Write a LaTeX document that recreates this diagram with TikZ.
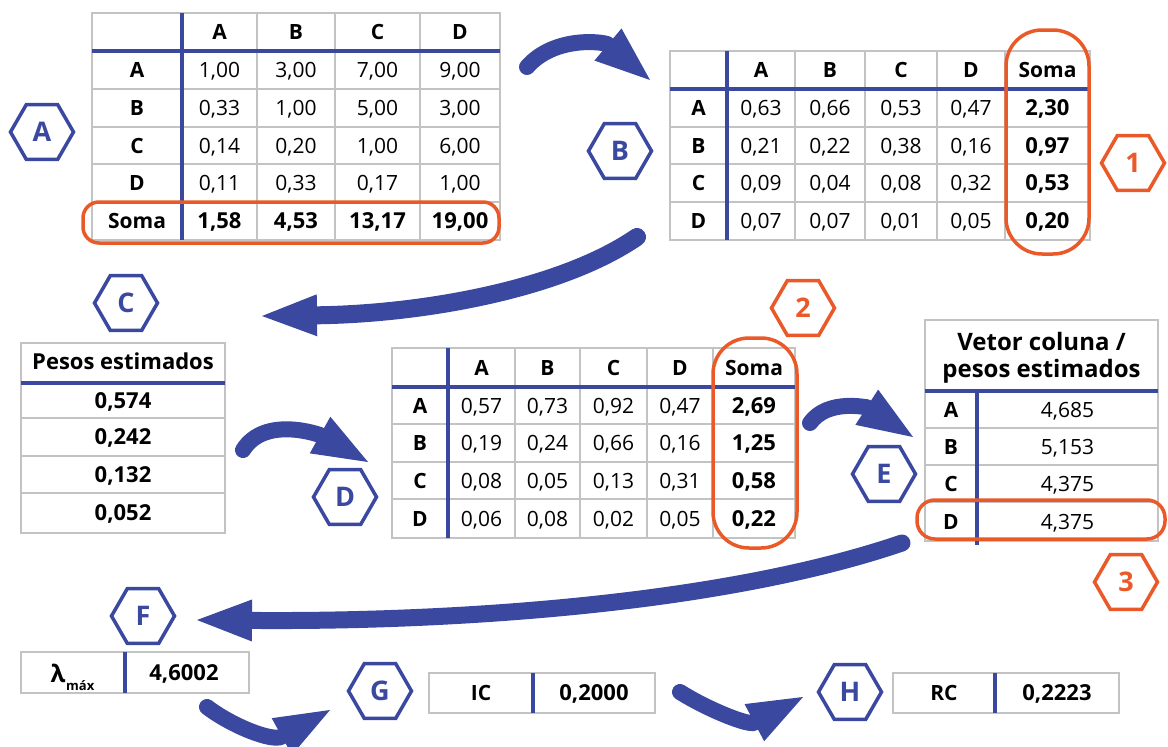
\documentclass[tikz,border=0pt]{standalone}
\usepackage{fontspec}
\setmainfont{Open Sans}
\usetikzlibrary{arrows.meta,shapes.geometric}

\definecolor{ahpblue}{RGB}{58,72,160}
\definecolor{ahporange}{RGB}{234,90,40}
\definecolor{gridgrey}{RGB}{195,195,195}

\tikzset{
  cell/.style={anchor=base, yshift=-7.5pt, inner sep=0pt, font=\fontsize{21}{25}\selectfont},
  bcell/.style={cell, font=\fontsize{21}{25}\selectfont\bfseries},
  bnum/.style={anchor=base, yshift=-7.8pt, inner sep=0pt, font=\fontsize{22}{26}\selectfont\bfseries},
  hdr/.style={anchor=base, inner sep=0pt, font=\fontsize{24}{28}\selectfont\bfseries},
  gridline/.style={draw=gridgrey, line width=2pt},
  blueline/.style={draw=ahpblue, line width=4pt},
  ring/.style={draw=ahporange, line width=3.5pt},
  hexmark/.style={regular polygon, regular polygon sides=6, minimum size=63pt,
    inner sep=0pt, line width=3.5pt, font=\fontsize{27}{30}\selectfont\bfseries},
  bluehex/.style={hexmark, draw=ahpblue, text=ahpblue},
  orangehex/.style={hexmark, draw=ahporange, text=ahporange},
  flow/.style={draw=ahpblue, line width=16pt, line cap=round,
    -{Triangle[length=55pt,width=42pt,line width=0pt]}},
}

% grey grid: xmin, xmax, ymin, ymax, inner verticals, inner horizontals
\newcommand\tablegrid[6]{%
  \foreach \gx in {#5} {\draw[gridline] (\gx,#3) -- (\gx,#4);}
  \foreach \gy in {#6} {\draw[gridline] (#1,\gy) -- (#2,\gy);}
  \draw[gridline] (#1,#3) rectangle (#2,#4);
}

\begin{document}
\begin{tikzpicture}[x=1pt,y=-1pt]
\fill[white] (0,0) rectangle (1168,747);
\useasboundingbox (0,0) rectangle (1168,747);

% ---------- Table A: comparison matrix ----------
\tablegrid{92}{500}{13}{240}{257,335,420}{89,127,164,202}
\draw[blueline] (182,13) -- (182,240);
\draw[blueline] (92,51) -- (500,51);
\foreach \x/\txt/\n in {219.5/A/1,296/B/2,377.5/C/3,460/D/4}
  \node[bcell] (ta-h\n) at (\x,32) {\txt};
\foreach \y/\txt/\n in {70/A/1,108/B/2,145.5/C/3,183/D/4,221/Soma/5}
  \node[bcell] (ta-r\n) at (137,\y) {\txt};
\foreach \y/\n/\va/\vb/\vc/\vd in {70/1/{1,00}/{3,00}/{7,00}/{9,00},
    108/2/{0,33}/{1,00}/{5,00}/{3,00}, 145.5/3/{0,14}/{0,20}/{1,00}/{6,00},
    183/4/{0,11}/{0,33}/{0,17}/{1,00}}{
  \node[cell] (ta-\n-1) at (219.5,\y) {\va};
  \node[cell] (ta-\n-2) at (296,\y) {\vb};
  \node[cell] (ta-\n-3) at (377.5,\y) {\vc};
  \node[cell] (ta-\n-4) at (460,\y) {\vd};
}
\node[bnum] (ta-5-1) at (219.5,221) {1,58};
\node[bnum] (ta-5-2) at (296,221) {4,53};
\node[bnum] (ta-5-3) at (377.5,221) {13,17};
\node[bnum] (ta-5-4) at (460,221) {19,00};
\draw[ring, rounded corners=16pt] (83,202) rectangle (499,243);
\node[bluehex] (hexA) at (42,132) {A};

% ---------- Table B: normalised matrix ----------
\tablegrid{670}{1090}{51}{240}{795,865,937,1005}{127,164,202}
\draw[blueline] (727,51) -- (727,240);
\draw[blueline] (670,89) -- (1090,89);
\foreach \x/\txt/\n in {761/A/1,830/B/2,901/C/3,971/D/4,1047.5/Soma/5}
  \node[bcell] (tb-h\n) at (\x,70) {\txt};
\foreach \y/\n/\r/\va/\vb/\vc/\vd/\vs in {108/1/A/{0,63}/{0,66}/{0,53}/{0,47}/{2,30},
    145.5/2/B/{0,21}/{0,22}/{0,38}/{0,16}/{0,97},
    183/3/C/{0,09}/{0,04}/{0,08}/{0,32}/{0,53},
    221/4/D/{0,07}/{0,07}/{0,01}/{0,05}/{0,20}}{
  \node[bcell] (tb-r\n) at (698.5,\y) {\r};
  \node[cell] (tb-\n-1) at (761,\y) {\va};
  \node[cell] (tb-\n-2) at (830,\y) {\vb};
  \node[cell] (tb-\n-3) at (901,\y) {\vc};
  \node[cell] (tb-\n-4) at (971,\y) {\vd};
  \node[bnum] (tb-\n-5) at (1047.5,\y) {\vs};
}
\draw[ring, rounded corners=36pt] (1006,30) rectangle (1089,254);
\node[bluehex] (hexB) at (620,151) {B};
\node[orangehex] (hex1) at (1133,163) {1};

% ---------- Table C: estimated weights ----------
\tablegrid{21}{225}{343}{533}{21}{418,456,493}
\draw[blueline] (21,383) -- (225,383);
\node[bcell, font=\fontsize{22}{26}\selectfont\bfseries] (tc-h) at (123,362) {Pesos estimados};
\foreach \y/\n/\v in {400.5/1/{0,574},437/2/{0,242},474.5/3/{0,132},513/4/{0,052}}
  \node[bnum] (tc-\n) at (123,\y) {\v};
\node[bluehex] (hexC) at (126,303) {C};

% ---------- Table D: weighted matrix ----------
\tablegrid{392}{795}{348}{538}{515,580,647,713}{424,462,499}
\draw[blueline] (448,348) -- (448,538);
\draw[blueline] (392,387) -- (795,387);
\foreach \x/\txt/\n in {481.5/A/1,547.5/B/2,613.5/C/3,680/D/4,754/Soma/5}
  \node[bcell] (td-h\n) at (\x,367.5) {\txt};
\foreach \y/\n/\r/\va/\vb/\vc/\vd/\vs in {405.5/1/A/{0,57}/{0,73}/{0,92}/{0,47}/{2,69},
    443/2/B/{0,19}/{0,24}/{0,66}/{0,16}/{1,25},
    480.5/3/C/{0,08}/{0,05}/{0,13}/{0,31}/{0,58},
    518.5/4/D/{0,06}/{0,08}/{0,02}/{0,05}/{0,22}}{
  \node[bcell] (td-r\n) at (420,\y) {\r};
  \node[cell] (td-\n-1) at (481.5,\y) {\va};
  \node[cell] (td-\n-2) at (547.5,\y) {\vb};
  \node[cell] (td-\n-3) at (613.5,\y) {\vc};
  \node[cell] (td-\n-4) at (680,\y) {\vd};
  \node[bnum] (td-\n-5) at (754,\y) {\vs};
}
\draw[ring, rounded corners=36pt] (713,338) rectangle (797,548);
\node[bluehex] (hexD) at (345,497) {D};
\node[orangehex] (hex2) at (803,308) {2};

% ---------- Table E: column vector / weights ----------
\tablegrid{925}{1158}{320}{541}{925}{428,465,502}
\draw[blueline] (925,391) -- (1158,391);
\draw[blueline] (977,391) -- (977,545);
\node[hdr] (te-h1) at (1041.5,350) {Vetor coluna /};
\node[hdr] (te-h2) at (1041.5,377) {pesos estimados};
\foreach \y/\n/\r/\v in {409.5/1/A/{4,685},446.5/2/B/{5,153},483.5/3/C/{4,375},521.5/4/D/{4,375}}{
  \node[bcell] (te-r\n) at (951,\y) {\r};
  \node[cell] (te-\n) at (1067.5,\y) {\v};
}
\draw[ring, rounded corners=18pt] (917,500) rectangle (1165,539);
\node[bluehex] (hexE) at (884,474) {E};
\node[orangehex] (hex3) at (1126,582) {3};

% ---------- lambda max ----------
\draw[gridline] (21,652) rectangle (249,693);
\draw[blueline] (125,652) -- (125,693);
\node[anchor=base, inner sep=0pt, font=\fontsize{24}{28}\selectfont\bfseries] (lam) at (58,682) {λ};
\node[anchor=base west, inner sep=0pt, font=\fontsize{13}{15}\selectfont\bfseries] (lamsub) at (66,690) {máx};
\node[bnum] (lamval) at (184,672.5) {4,6002};
\node[bluehex] (hexF) at (143,616) {F};

% ---------- consistency index ----------
\draw[gridline] (429,673) rectangle (655,713);
\draw[blueline] (533,673) -- (533,713);
\node[bcell] (icl) at (481,693) {IC};
\node[bnum] (icv) at (594,693) {0,2000};
\node[bluehex] (hexG) at (380,691) {G};

% ---------- consistency ratio ----------
\draw[gridline] (893,673) rectangle (1119,713);
\draw[blueline] (995,673) -- (995,713);
\node[bcell] (rcl) at (944,693) {RC};
\node[bnum] (rcv) at (1057,693) {0,2223};
\node[bluehex] (hexH) at (850,692) {H};

% ---------- flow arrows ----------
\coordinate (a1s) at (527,67);  \coordinate (a1e) at (650,80);
\coordinate (a2s) at (637,237); \coordinate (a2e) at (262,316);
\coordinate (a3s) at (243,450); \coordinate (a3e) at (368,462);
\coordinate (a4s) at (810,423); \coordinate (a4e) at (913,437);
\coordinate (a5s) at (902,543); \coordinate (a5e) at (197,620);
\coordinate (a6s) at (207,707); \coordinate (a6e) at (330,710);
\coordinate (a7s) at (680,692); \coordinate (a7e) at (803,697);
\draw[flow] (a1s) .. controls (555,35) and (605,42) .. (a1e);
\draw[flow, line width=18pt] (a2s) .. controls (560,290) and (420,314) .. (a2e);
\draw[flow] (a3s) .. controls (265,415) and (320,435) .. (a3e);
\draw[flow] (a4s) .. controls (828,398) and (868,408) .. (a4e);
\draw[flow, line width=17pt] (a5s) .. controls (720,605) and (450,622) .. (a5e);
\draw[flow] (a6s) .. controls (232,726) and (272,742) .. (a6e);
\draw[flow] (a7s) .. controls (705,708) and (748,726) .. (a7e);
\end{tikzpicture}
\end{document}
